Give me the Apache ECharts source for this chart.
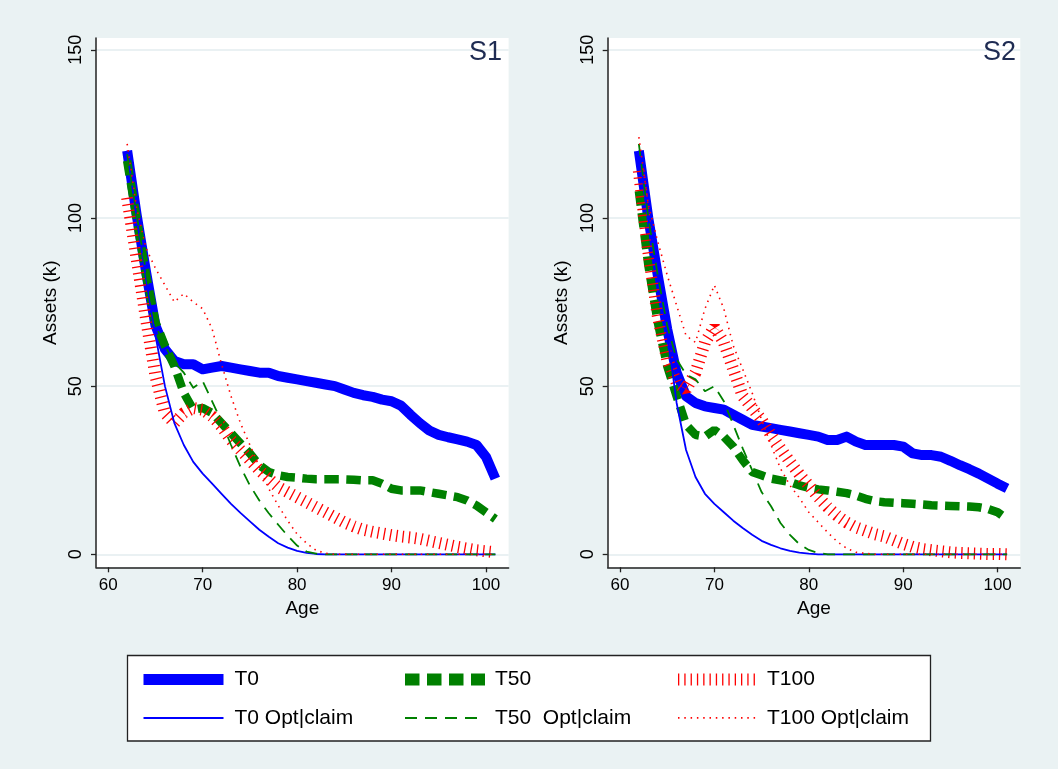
<!DOCTYPE html>
<html>
<head>
<meta charset="utf-8">
<title>Assets by age</title>
<script src="https://cdn.jsdelivr.net/npm/echarts@6/dist/echarts.min.js"></script>
<style>
html, body { margin: 0; padding: 0; background: #eaf2f3; }
#main { width: 1058px; height: 769px; }
</style>
</head>
<body>
<div id="main"></div>
<script>
// x axis: age
var ages = [62, 63, 64, 65, 66, 67, 68, 69, 70, 71, 72, 73, 74, 75, 76, 77, 78, 79, 80, 81,
            82, 83, 84, 85, 86, 87, 88, 89, 90, 91, 92, 93, 94, 95, 96, 97, 98, 99, 100, 101];
var xTicks = [60, 70, 80, 90, 100];
var yTicks = [0, 50, 100, 150];
var panelNames = ['S1', 'S2'];
var seriesNames = ['T0', 'T50', 'T100', 'T0 Opt|claim', 'T50  Opt|claim', 'T100 Opt|claim'];

// S1 panel
var t0_s1 = [120, 101, 84, 68, 61, 57.5, 56.5, 56.5, 55, 55.5, 56, 55.5, 55, 54.5, 54, 54, 53, 52.5, 52, 51.5,
             51, 50.5, 50, 49, 48, 47.3, 46.8, 46, 45.5, 44.2, 41.5, 39, 36.8, 35.5, 34.8, 34.2, 33.5, 32.5, 29, 22.5];
var t50_s1 = [117, 100, 83, 69, 62, 56, 48, 43, 43.5, 42, 39, 36, 33, 30, 26.5, 24.5, 23.5, 23, 22.8, 22.5,
              22.3, 22.3, 22.3, 22.3, 22.2, 22, 22, 21, 19.5, 19, 19, 19, 18.5, 18, 17.5, 17, 16, 14.5, 12.5, 10.5];
var t100_s1 = [106, 88, 70, 53, 42, 39, 42, 43.5, 43, 41, 38, 34, 31, 28, 25, 22.5, 20, 18.5, 17, 15.5,
               14, 12.5, 11, 9.5, 8.3, 7.3, 6.7, 6.2, 5.7, 5.3, 5, 4.6, 4, 3.4, 2.8, 2.2, 1.7, 1.2, 0.9, 0.6];
var t0opt_s1 = [120, 100, 82, 65, 50, 39, 32.5, 27.5, 24, 21, 18, 15, 12.3, 9.8, 7.3, 5.2, 3.3, 2, 1, 0.4,
                0.1, 0, 0, 0, 0, 0, 0, 0, 0, 0, 0, 0, 0, 0, 0, 0, 0, 0, 0, 0];
var t50opt_s1 = [119, 101, 84, 68, 62, 57, 54, 49.5, 51.5, 45.5, 39.5, 32.5, 26, 20.5, 16, 12.2, 8.8, 5.5, 2.6, 0.8,
                 0.2, 0, 0, 0, 0, 0, 0, 0, 0, 0, 0, 0, 0, 0, 0, 0, 0, 0, 0, 0];
var t100opt_s1 = [122, 103, 91, 85, 80, 75, 77.5, 75, 73, 67, 56.5, 47, 39, 32.5, 26, 19.5, 14.5, 10, 6, 3.3,
                  1.2, 0.3, 0, 0, 0, 0, 0, 0, 0, 0, 0, 0, 0, 0, 0, 0, 0, 0, 0, 0];

// S2 panel
var t0_s2 = [120, 100, 83, 67, 54, 47, 45, 44, 43.5, 43, 41.5, 40, 38.5, 38, 37.5, 37, 36.5, 36, 35.5, 35,
             34, 34, 35, 33.5, 32.5, 32.5, 32.5, 32.5, 32, 30, 29.5, 29.5, 29, 27.8, 26.5, 25.3, 24, 22.5, 21, 19.6];
var t50_s2 = [108, 86, 69, 56, 47, 38.5, 35.5, 35, 37, 35, 32, 28, 24.5, 23.5, 22.5, 22, 21.5, 20.5, 19.8, 19.3,
              19, 18.6, 18.2, 17.5, 16.5, 15.8, 15.5, 15.3, 15.2, 15, 14.8, 14.6, 14.5, 14.4, 14.3, 14.2, 14, 13.5, 12.5, 10.5];
var t100_s2 = [114, 90, 71, 58, 51, 49, 54, 63, 67.5, 63, 55, 47, 43.5, 40, 35.5, 31.5, 27.5, 23.8, 20.5, 17,
               14, 11.5, 9.5, 8, 7, 6, 5.3, 4.2, 3.1, 2.2, 1.6, 1.2, 0.9, 0.6, 0.4, 0.3, 0.2, 0.1, 0.1, 0];
var t0opt_s2 = [120, 100, 83, 66, 45, 31, 23, 18, 15, 12.5, 10, 7.8, 5.8, 4, 2.8, 1.8, 1, 0.5, 0.2, 0,
                0, 0, 0, 0, 0, 0, 0, 0, 0, 0, 0, 0, 0, 0, 0, 0, 0, 0, 0, 0];
var t50opt_s2 = [122, 100, 83, 68, 58, 53.5, 52, 48.5, 50, 45.5, 38.5, 31.5, 25, 18.5, 14.3, 9.3, 5.8, 3, 1.3, 0.4,
                 0, 0, 0, 0, 0, 0, 0, 0, 0, 0, 0, 0, 0, 0, 0, 0, 0, 0, 0, 0];
var t100opt_s2 = [124, 104, 93, 83, 74, 65, 63, 73, 80, 73, 62, 55, 48, 40, 32.5, 25.5, 20.5, 16.8, 12.5, 9.5,
                  6.5, 3.8, 1.8, 0.6, 0.3, 0, 0, 0, 0, 0, 0, 0, 0, 0, 0, 0, 0, 0, 0, 0];

var panelData = [
    [t0_s1, t50_s1, t100_s1, t0opt_s1, t50opt_s1, t100opt_s1],
    [t0_s2, t50_s2, t100_s2, t0opt_s2, t50opt_s2, t100opt_s2]
];

var FONT = 'Liberation Sans, Arial, sans-serif';
var BLUE = '#0000ff', GREEN = '#008000', RED = '#ff0000';

// line styles, same order as seriesNames
var styles = [
    {color: BLUE,  width: 10,  type: 'solid',       join: 'round', legendWidth: 11},
    {color: GREEN, width: 8.5, type: [14.5, 7.5],   join: 'bevel', legendWidth: 12},
    {color: RED,   width: 12,  type: [1.3, 5],      join: 'bevel', legendWidth: 12},
    {color: BLUE,  width: 1.8, type: 'solid',       join: 'round', legendWidth: 2},
    {color: GREEN, width: 1.8, type: [12, 8],       join: 'round', legendWidth: 2},
    {color: RED,   width: 1.6, type: [1.5, 4.8],    join: 'round', legendWidth: 1.6}
];

function pairs(vals) {
    return ages.map(function (a, i) { return [a, vals[i]]; });
}

var chart = echarts.init(document.getElementById('main'), null, {renderer: 'canvas'});

var grids = [], xAxes = [], yAxes = [], series = [], titles = [];
var gridLeft = [96, 607.7];
var titleRight = [556, 42];

for (var p = 0; p < 2; p++) {
    grids.push({
        left: gridLeft[p], top: 38, width: 412.6, height: 529.3,
        show: true, backgroundColor: '#ffffff', borderWidth: 0
    });
    xAxes.push({
        gridIndex: p, type: 'value', min: 58.7, max: 102.4,
        name: 'Age', nameLocation: 'middle', nameGap: 30,
        nameTextStyle: {fontSize: 19, color: '#000', fontFamily: FONT},
        axisLine: {show: true, onZero: false, lineStyle: {color: '#222', width: 1.5}},
        axisTick: {show: true, length: 5, customValues: xTicks, lineStyle: {color: '#222', width: 1.3}},
        axisLabel: {customValues: xTicks, margin: 10, fontSize: 17, color: '#000', fontFamily: FONT},
        splitLine: {show: false}
    });
    yAxes.push({
        gridIndex: p, type: 'value', min: -3.86, max: 153.5,
        name: 'Assets (k)', nameLocation: 'middle', nameGap: 36,
        nameTextStyle: {fontSize: 19, color: '#000', fontFamily: FONT},
        axisLine: {show: true, onZero: false, lineStyle: {color: '#222', width: 1.5}},
        axisTick: {show: true, length: 5, customValues: yTicks, lineStyle: {color: '#222', width: 1.3}},
        axisLabel: {customValues: yTicks, rotate: 90, margin: 11, fontSize: 18, color: '#000', fontFamily: FONT},
        splitLine: {show: true, lineStyle: {color: '#e3ecef', width: 1.5}}
    });
    titles.push({
        text: panelNames[p], right: titleRight[p], top: 39, padding: 0,
        textStyle: {fontSize: 27, fontWeight: 'normal', color: '#1e2b52', fontFamily: FONT}
    });
    for (var s = 0; s < seriesNames.length; s++) {
        series.push({
            name: seriesNames[s],
            type: 'line',
            xAxisIndex: p,
            yAxisIndex: p,
            data: pairs(panelData[p][s]),
            symbol: 'none',
            showSymbol: false,
            color: styles[s].color,
            lineStyle: {color: styles[s].color, width: styles[s].width, type: styles[s].type, cap: 'butt', join: styles[s].join},
            silent: true,
            animation: false
        });
    }
}

// legend: three columns, two rows
var legendCols = [[0, 3], [1, 4], [2, 5]];
var legendLeft = [138, 399, 672];
var legendPad = [12, 11, 10];
var legends = legendCols.map(function (col, c) {
    return {
        orient: 'vertical',
        left: legendLeft[c], top: 669,
        padding: 0,
        itemWidth: 80, itemHeight: 20, itemGap: 17.4,
        selectedMode: false,
        itemStyle: {opacity: 0},
        textStyle: {fontSize: 21, color: '#000', fontFamily: FONT, padding: [0, 0, 0, legendPad[c] - 6], lineHeight: 20},
        data: col.map(function (k) {
            return {
                name: seriesNames[k],
                itemStyle: {opacity: 0},
                lineStyle: {width: styles[k].legendWidth, type: styles[k].type, opacity: 1}
            };
        })
    };
});

var option = {
    backgroundColor: '#eaf2f3',
    animation: false,
    title: titles,
    legend: legends,
    grid: grids,
    xAxis: xAxes,
    yAxis: yAxes,
    // legend frame
    graphic: [{
        type: 'rect', z: 0, silent: true,
        shape: {x: 127.5, y: 655.5, width: 803, height: 85.5},
        style: {fill: '#ffffff', stroke: '#222', lineWidth: 1.3}
    }],
    series: series
};

chart.setOption(option);
</script>
</body>
</html>
